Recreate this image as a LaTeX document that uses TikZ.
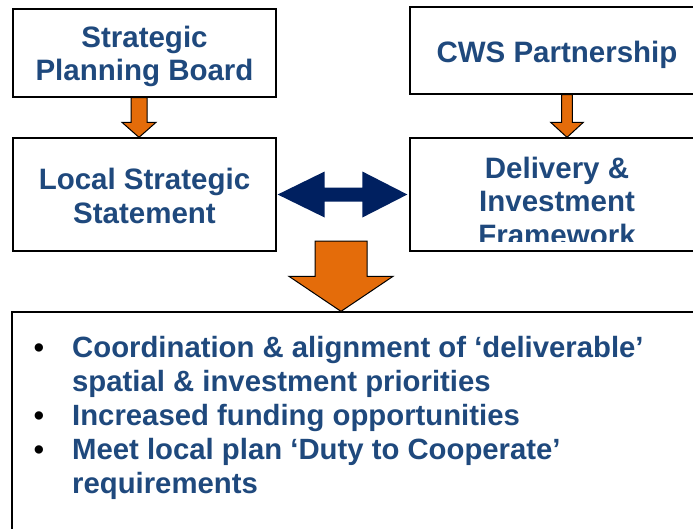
\documentclass[tikz,border=0pt]{standalone}
\usepackage{fontspec}
\setmainfont{Liberation Sans}
\usetikzlibrary{calc}
\definecolor{txtblue}{HTML}{1F497D}
\definecolor{navyarrow}{HTML}{002060}
\definecolor{orangearrow}{HTML}{E46C0A}
% #1 top coord, #2 tip coord, #3 shaft half width, #4 head half width, #5 head length, #6 style
\newcommand\blkdown[6]{%
  \draw[#6] let \p1=#1, \p2=#2 in
    (\x1-#3,\y1) -- (\x1+#3,\y1) -- (\x1+#3,\y2+#5) -- (\x1+#4,\y2+#5) -- (\x1,\y2)
    -- (\x1-#4,\y2+#5) -- (\x1-#3,\y2+#5) -- cycle;}
\tikzset{
  box/.style={draw=black, line width=1.3pt, fill=white, inner sep=0pt},
  boxtext/.style={align=center, text=txtblue, inner sep=0pt,
    font=\bfseries\fontsize{29.5}{33.5}\selectfont},
  listtext/.style={align=left, text=txtblue, inner sep=0pt,
    font=\bfseries\fontsize{29.3}{34}\selectfont},
  bulletmark/.style={inner sep=0pt, text=black, font=\bfseries\fontsize{29}{34}\selectfont},
  orangeblk/.style={fill=orangearrow, draw=black, line width=1pt, line join=miter},
  navyblk/.style={fill=navyarrow, draw=none},
}
\begin{document}
\begin{tikzpicture}[x=1pt,y=1pt]
\clip (0,0) rectangle (693,-528);
\fill[white] (0,0) rectangle (693,-528);

% boxes
\node[box, minimum width=263pt, minimum height=88pt] (A) at (144.5,-53) {};
\node[boxtext] (At) at (144.5,-56.5) {Strategic\\Planning Board};

\node[box, minimum width=263pt, minimum height=113pt] (B) at (144.5,-194.5) {};
\node[boxtext] (Bt) at (144.5,-196) {Local Strategic\\Statement};

\node[box, minimum width=294pt, minimum height=87pt] (C) at (557,-50.5) {};
\node[boxtext] (Ct) at (557,-55) {CWS Partnership};

\node[box, minimum width=294pt, minimum height=113pt] (D) at (557,-194.5) {};
\begin{scope}
  \clip (410,-138) rectangle (704,-241);
  \node[boxtext] (Dt) at (557,-201) {Delivery \&\\Investment\\Framework};
\end{scope}

\node[box, minimum width=708pt, minimum height=248pt] (E) at (366,-436) {};
\node[listtext, anchor=base west] (Et) at (72,-493)
  {Coordination \& alignment of ‘deliverable’\\
   spatial \& investment priorities\\
   Increased funding opportunities\\
   Meet local plan ‘Duty to Cooperate’\\
   requirements};
\node[bulletmark, anchor=base] (b1) at (39,-357) {•};
\node[bulletmark, anchor=base] (b2) at (39,-425) {•};
\node[bulletmark, anchor=base] (b3) at (39,-459) {•};

% orange block arrows
\blkdown{($(A.south)+(-5.5,0)$)}{(B.north)}{8pt}{17pt}{15pt}{orangeblk}
\blkdown{($(C.south)+(10,0)$)}{(D.north)}{5.3pt}{16.3pt}{15pt}{orangeblk}
\blkdown{($(341,-241)$)}{(E.north)}{26pt}{52pt}{35pt}{orangeblk}

% navy double arrow
\fill[navyblk] let \p1=($(B.east)+(1,0)$), \p2=($(D.west)+(-2,0)$) in
  (\x1,\y1) -- (\x1+47pt,\y1+23pt) -- (\x1+47pt,\y1+7pt) -- (\x2-45pt,\y1+7pt)
  -- (\x2-45pt,\y1+23pt) -- (\x2,\y1) -- (\x2-45pt,\y1-23pt) -- (\x2-45pt,\y1-7pt)
  -- (\x1+47pt,\y1-7pt) -- (\x1+47pt,\y1-23pt) -- cycle;
\end{tikzpicture}
\end{document}
